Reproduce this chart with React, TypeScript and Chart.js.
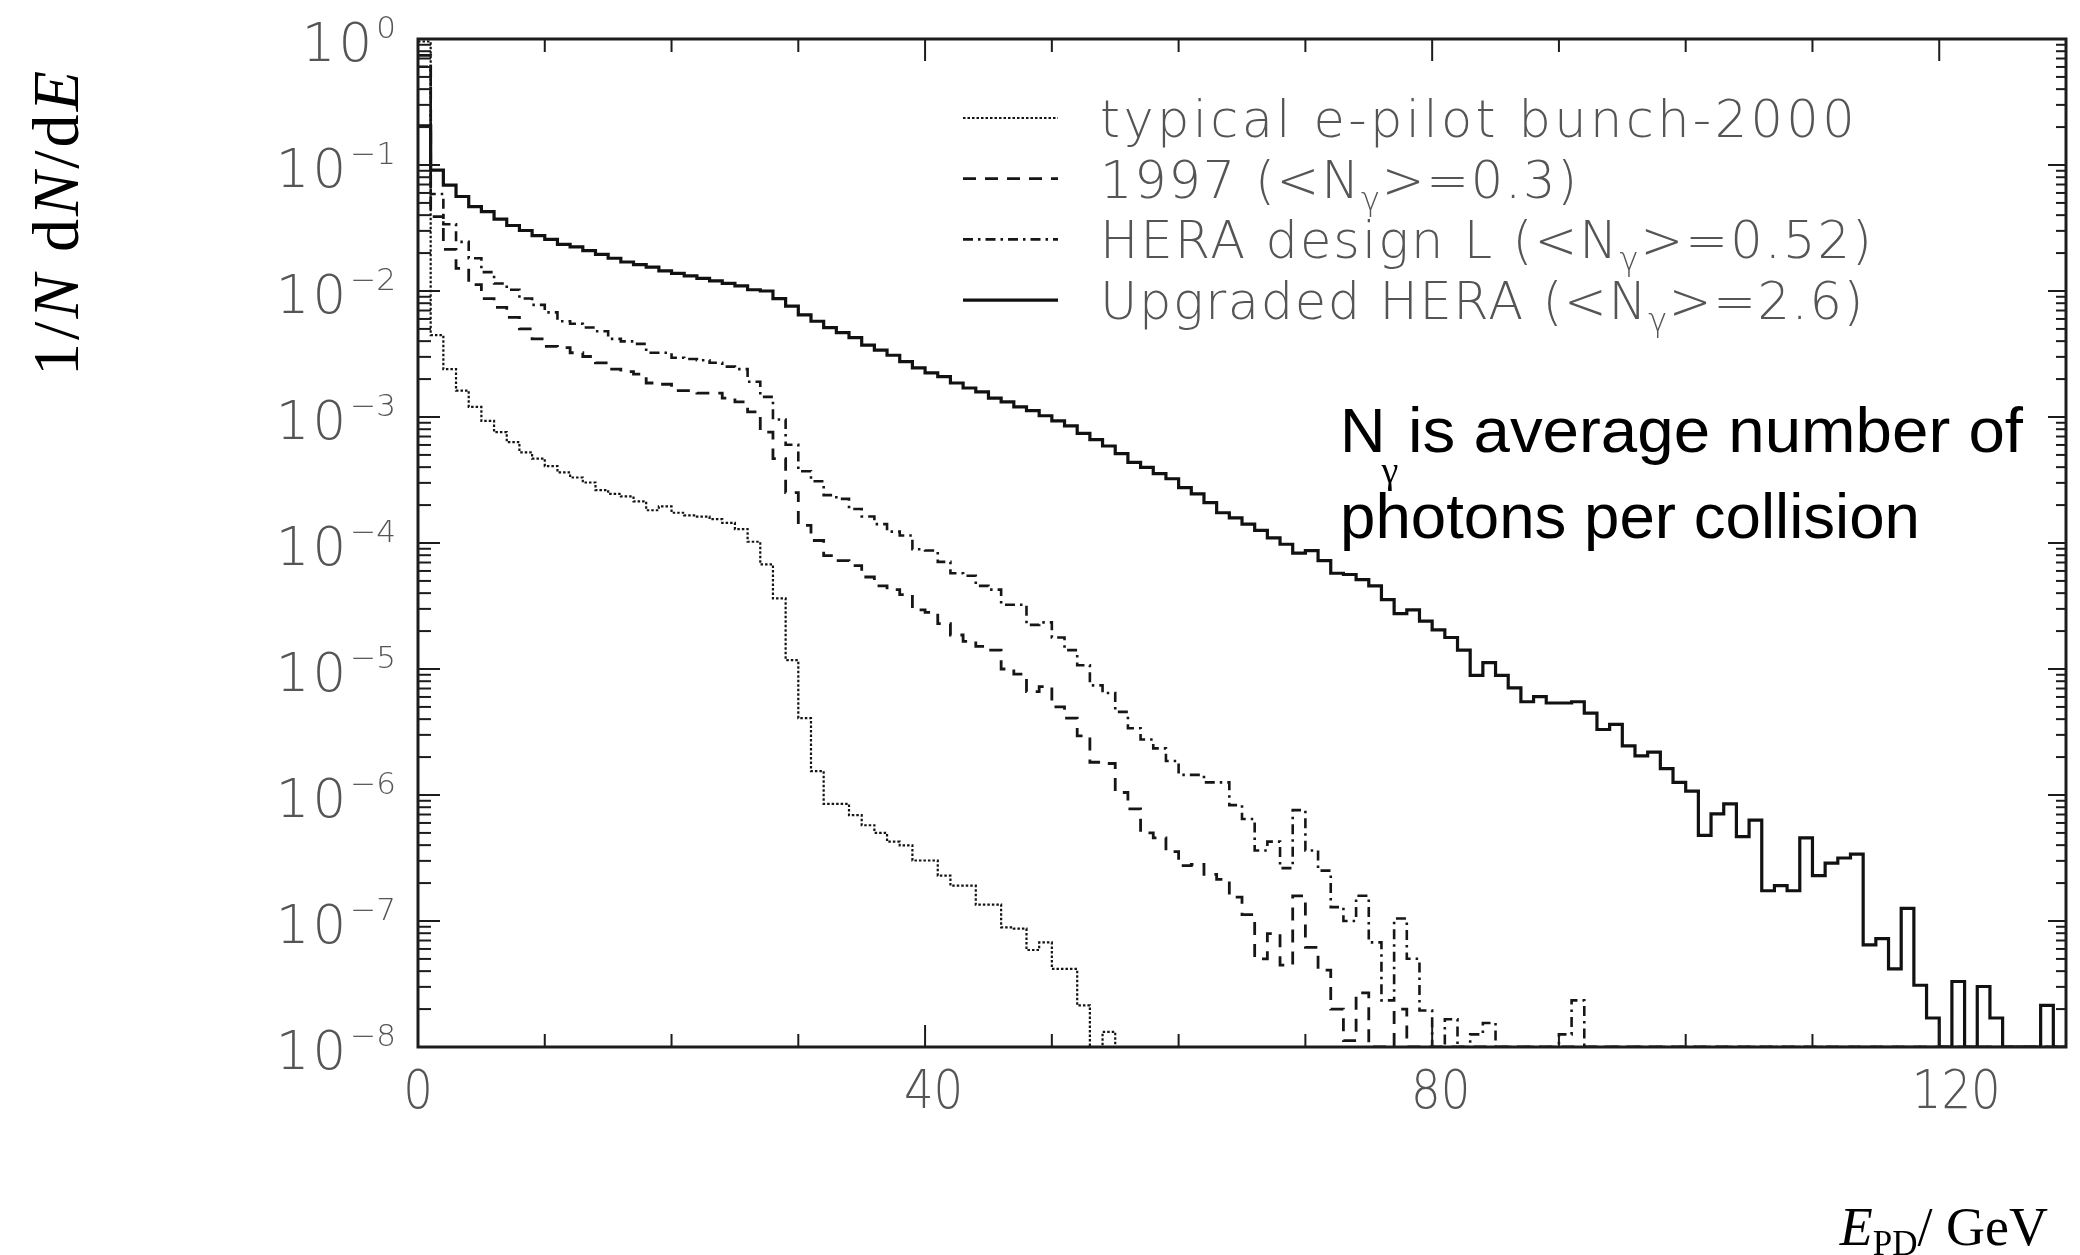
import React, { useEffect, useRef } from "react";
import { Chart, registerables } from "chart.js";

Chart.register(...registerables);

// ---------------- data ----------------
const X_MIN = 0;
const X_MAX = 130;
const BIN_WIDTH = 1; // GeV
const Y_MIN = 1e-8;
const Y_MAX = 1;

const xTickValues = [10, 20, 30, 40, 50, 60, 70, 80, 90, 100, 110, 120];
const xMajorTickValues = [40, 80, 120];
const xLabelValues = [0, 40, 80, 120];
const yDecadeExponents = [-8, -7, -6, -5, -4, -3, -2, -1, 0];
const yMinorMultipliers = [2, 3, 4, 5, 6, 7, 8, 9];

const seriesLabels = [
  "typical e-pilot bunch-2000",
  "1997 (<Nγ>=0.3)",
  "HERA design L (<Nγ>=0.52)",
  "Upgraded HERA (<Nγ>=2.6)",
];

// log10 of 1/N dN/dE per 1 GeV bin (bin k = [k, k+1) GeV); null = empty bin
const pilotLog10 = [
  -0.02, -2.35, -2.62, -2.79, -2.92, -3.03, -3.12, -3.2, -3.28, -3.33,
  -3.39, -3.44, -3.48, -3.52, -3.58, -3.61, -3.63, -3.67, -3.74, -3.71,
  -3.76, -3.78, -3.79, -3.81, -3.84, -3.89, -3.99, -4.17, -4.44, -4.93,
  -5.39, -5.81, -6.07, -6.07, -6.16, -6.24, -6.3, -6.37, -6.4, -6.52,
  -6.52, -6.64, -6.72, -6.72, -6.87, -6.87, -7.05, -7.06, -7.23, -7.17,
  -7.38, -7.38, -7.67, null, -7.88, null, null, null, null, null,
  null, null, null, null, null, null, null, null, null, null,
  null, null, null, null, null, null, null, null, null, null,
  null, null, null, null, null, null, null, null, null, null,
  null, null, null, null, null, null, null, null, null, null,
  null, null, null, null, null, null, null, null, null, null,
  null, null, null, null, null, null, null, null, null, null,
  null, null, null, null, null, null, null, null, null, null,
];

const run1997Log10 = [
  -0.13, -1.41, -1.67, -1.82, -1.95, -2.06, -2.13, -2.21, -2.3, -2.38,
  -2.44, -2.45, -2.49, -2.52, -2.57, -2.62, -2.64, -2.66, -2.73, -2.74,
  -2.79, -2.79, -2.81, -2.81, -2.85, -2.88, -2.96, -3.12, -3.33, -3.6,
  -3.86, -3.98, -4.1, -4.14, -4.18, -4.27, -4.34, -4.37, -4.41, -4.53,
  -4.55, -4.64, -4.73, -4.78, -4.82, -4.85, -5.0, -5.04, -5.18, -5.14,
  -5.3, -5.39, -5.53, -5.74, -5.75, -5.98, -6.11, -6.3, -6.34, -6.45,
  -6.56, -6.55, -6.63, -6.67, -6.81, -6.95, -7.3, -7.1, -7.35, -6.8,
  -7.21, -7.39, -7.7, -7.95, -7.57, null, null, -7.7, null, null,
  null, null, null, null, null, null, null, null, null, null,
  null, null, null, null, null, null, null, null, null, null,
  null, null, null, null, null, null, null, null, null, null,
  null, null, null, null, null, null, null, null, null, null,
  null, null, null, null, null, null, null, null, null, null,
];

const designLLog10 = [
  -0.22, -1.23, -1.47, -1.61, -1.74, -1.85, -1.94, -1.99, -2.06, -2.11,
  -2.17, -2.24, -2.26, -2.29, -2.32, -2.38, -2.4, -2.42, -2.49, -2.49,
  -2.53, -2.54, -2.55, -2.57, -2.6, -2.62, -2.72, -2.84, -3.02, -3.22,
  -3.43, -3.51, -3.62, -3.65, -3.73, -3.79, -3.85, -3.91, -3.94, -4.05,
  -4.06, -4.15, -4.24, -4.26, -4.34, -4.37, -4.49, -4.49, -4.65, -4.63,
  -4.75, -4.85, -4.97, -5.13, -5.19, -5.34, -5.47, -5.56, -5.63, -5.73,
  -5.84, -5.84, -5.9, -5.9, -6.08, -6.19, -6.44, -6.37, -6.58, -6.12,
  -6.44, -6.6, -6.89, -7.0, -6.8, -7.17, -7.63, -6.98, -7.3, -7.71,
  null, -7.78, null, -7.9, -7.81, null, null, null, null, null,
  -7.9, -7.63, null, null, null, null, null, null, null, null,
  null, null, null, null, null, null, null, null, null, null,
  null, null, null, null, null, null, null, null, null, null,
  null, null, null, null, null, null, null, null, null, null,
];

const upgradedLog10 = [
  -0.69, -1.04, -1.16, -1.25, -1.33, -1.37, -1.43, -1.48, -1.52, -1.56,
  -1.59, -1.63, -1.65, -1.68, -1.71, -1.74, -1.77, -1.79, -1.81, -1.84,
  -1.86, -1.88, -1.9, -1.92, -1.94, -1.96, -1.99, -2.0, -2.06, -2.12,
  -2.19, -2.24, -2.29, -2.33, -2.37, -2.43, -2.47, -2.51, -2.56, -2.61,
  -2.65, -2.68, -2.73, -2.77, -2.8, -2.85, -2.88, -2.92, -2.95, -2.99,
  -3.03, -3.07, -3.13, -3.18, -3.23, -3.29, -3.36, -3.4, -3.45, -3.49,
  -3.56, -3.61, -3.68, -3.76, -3.8, -3.85, -3.9, -3.96, -4.01, -4.08,
  -4.06, -4.14, -4.24, -4.25, -4.29, -4.34, -4.45, -4.56, -4.53, -4.62,
  -4.69, -4.75, -4.85, -5.05, -4.95, -5.05, -5.15, -5.26, -5.22, -5.27,
  -5.27, -5.26, -5.35, -5.48, -5.44, -5.61, -5.69, -5.66, -5.79, -5.9,
  -5.97, -6.32, -6.15, -6.07, -6.33, -6.2, -6.76, -6.72, -6.76, -6.34,
  -6.64, -6.54, -6.5, -6.47, -7.19, -7.14, -7.38, -6.9, -7.51, -7.77,
  null, -7.48, null, -7.52, -7.77, null, null, null, -7.67, null,
];

const seriesLog10 = [pilotLog10, run1997Log10, designLLog10, upgradedLog10];

// ---------------- styles / layout ----------------
const W = 2080;
const H = 1255;
const PAD = { left: 418, right: 14, top: 39, bottom: 208 };
const AXIS_COLOR = "#1c1c1c";
const LABEL_COLOR = "#555555";
const THIN_FAMILY = '"DejaVu Sans", Roboto, sans-serif';
const LABEL_FONT = `200 53px ${THIN_FAMILY}`;
const SUP_FONT = `200 31px ${THIN_FAMILY}`;
const LEGEND_FONT = `200 51px ${THIN_FAMILY}`;
const LEGEND_SUB_FONT = `200 32px ${THIN_FAMILY}`;
const SERIF = '"Liberation Serif", "Times New Roman", serif';
const SANS = '"Liberation Sans", Arial, sans-serif';
const LEGEND_TEXT_WIDTHS = [758, 479, 774, 765];

const seriesStyles = [
  { color: "#141414", width: 2.2, dash: [2.5, 2] },
  { color: "#161616", width: 2.8, dash: [13, 9] },
  { color: "#161616", width: 2.6, dash: [10, 5, 2.5, 5] },
  { color: "#111111", width: 3.2, dash: [] as number[] },
];

function toPoints(arr: (number | null)[]) {
  const pts = arr.map((e, i) => ({
    x: X_MIN + i * BIN_WIDTH,
    y: e === null ? Y_MIN : Math.pow(10, e),
  }));
  const last = pts[pts.length - 1];
  pts.push({ x: X_MIN + arr.length * BIN_WIDTH, y: last.y });
  return pts;
}

type Part = { t: string; font: string; dy: number };

function drawParts(ctx: CanvasRenderingContext2D, parts: Part[], x: number, y: number, spacing = 0) {
  let cx = x;
  for (const p of parts) {
    ctx.font = p.font;
    (ctx as any).letterSpacing = `${spacing}px`;
    ctx.fillText(p.t, cx, y + p.dy);
    cx += ctx.measureText(p.t).width;
  }
  (ctx as any).letterSpacing = "0px";
  return cx - x;
}

function measureParts(ctx: CanvasRenderingContext2D, parts: Part[], spacing = 0) {
  let w = 0;
  for (const p of parts) {
    ctx.font = p.font;
    (ctx as any).letterSpacing = `${spacing}px`;
    w += ctx.measureText(p.t).width;
  }
  (ctx as any).letterSpacing = "0px";
  return w;
}

function legendParts(label: string): Part[] {
  const out: Part[] = [];
  const pieces = label.split("γ");
  pieces.forEach((s, i) => {
    if (s) out.push({ t: s, font: LEGEND_FONT, dy: 0 });
    if (i < pieces.length - 1) out.push({ t: "γ", font: LEGEND_SUB_FONT, dy: 12 });
  });
  return out;
}

const paperPlugin = {
  id: "paperFrame",
  afterDraw(chart: any) {
    const { ctx, chartArea: a, scales } = chart;
    const xs = scales.x;
    const ys = scales.y;
    ctx.save();

    // ticks (inward, all four sides)
    ctx.strokeStyle = AXIS_COLOR;
    ctx.lineWidth = 2;
    ctx.setLineDash([]);
    const seg = (x1: number, y1: number, x2: number, y2: number) => {
      ctx.beginPath();
      ctx.moveTo(x1, y1);
      ctx.lineTo(x2, y2);
      ctx.stroke();
    };
    for (const t of xTickValues) {
      const px = xs.getPixelForValue(t);
      const len = xMajorTickValues.includes(t) ? 22 : 13;
      seg(px, a.bottom, px, a.bottom - len);
      seg(px, a.top, px, a.top + len);
    }
    for (const e of yDecadeExponents) {
      const py = ys.getPixelForValue(Math.pow(10, e));
      seg(a.left, py, a.left + 22, py);
      seg(a.right, py, a.right - 18, py);
      if (e < 0) {
        for (const m of yMinorMultipliers) {
          const pm = ys.getPixelForValue(m * Math.pow(10, e));
          seg(a.left, pm, a.left + 13, pm);
          seg(a.right, pm, a.right - 10, pm);
        }
      }
    }

    // frame
    ctx.lineWidth = 3;
    ctx.strokeRect(a.left, a.top, a.right - a.left, a.bottom - a.top);

    // y tick labels 10^n
    ctx.fillStyle = LABEL_COLOR;
    ctx.textBaseline = "alphabetic";
    const yLabelRight = a.left - 22;
    for (const e of yDecadeExponents) {
      const py = ys.getPixelForValue(Math.pow(10, e));
      const sup = e === 0 ? "0" : "\u2212" + Math.abs(e);
      ctx.font = SUP_FONT;
      ctx.textAlign = "right";
      ctx.fillText(sup, yLabelRight, py - 1);
      const sw = ctx.measureText(sup).width;
      ctx.font = LABEL_FONT;
      (ctx as any).letterSpacing = "3px";
      ctx.fillText("10", yLabelRight - sw - 1, py + 22);
      (ctx as any).letterSpacing = "0px";
    }

    // x tick labels (HIGZ-style: shifted right with the number of digits)
    ctx.font = LABEL_FONT;
    ctx.textAlign = "center";
    for (const v of xLabelValues) {
      const s = String(v);
      const px = xs.getPixelForValue(v) + (s.length - 1) * 8.5;
      ctx.save();
      ctx.translate(px, a.bottom + 61);
      ctx.scale(0.88, 1);
      ctx.fillText(s, 0, 0);
      ctx.restore();
    }

    // legend
    ctx.textAlign = "left";
    const legendLineX1 = 963;
    const legendLineX2 = 1058;
    const legendTextX = 1100;
    const legendY0 = 118;
    const legendRow = 60.7;
    chart.data.datasets.forEach((ds: any, i: number) => {
      const ly = legendY0 + i * legendRow;
      ctx.strokeStyle = ds.borderColor;
      ctx.lineWidth = ds.borderWidth;
      ctx.setLineDash(ds.borderDash || []);
      seg(legendLineX1, ly, legendLineX2, ly);
      ctx.setLineDash([]);
      ctx.fillStyle = LABEL_COLOR;
      const parts = legendParts(ds.label);
      const baseW = measureParts(ctx, parts, 0);
      const nChars = ds.label.length;
      const spacing = Math.max(0, (LEGEND_TEXT_WIDTHS[i] - baseW) / nChars);
      drawParts(ctx, parts, legendTextX, ly + 19, spacing);
    });

    // annotation
    ctx.fillStyle = "#000";
    ctx.textAlign = "left";
    const annX = 1340;
    ctx.font = `63px ${SANS}`;
    ctx.fillText("N", annX, 452);
    const nW = ctx.measureText("N").width;
    ctx.font = `38px ${SERIF}`;
    ctx.fillText("γ", annX + nW - 4, 483);
    ctx.font = `63px ${SANS}`;
    const line1 = "is average number of";
    const l1w = ctx.measureText(line1).width;
    ctx.save();
    ctx.translate(annX + 68, 452);
    ctx.scale(615 / l1w, 1);
    ctx.fillText(line1, 0, 0);
    ctx.restore();
    const line2 = "photons per collision";
    const l2w = ctx.measureText(line2).width;
    ctx.save();
    ctx.translate(annX, 538);
    ctx.scale(580 / l2w, 1);
    ctx.fillText(line2, 0, 0);
    ctx.restore();

    // y axis title (rotated)
    const yTitle: Part[] = [
      { t: "1/", font: `66px ${SERIF}`, dy: 0 },
      { t: "N", font: `italic 66px ${SERIF}`, dy: 0 },
      { t: " d", font: `66px ${SERIF}`, dy: 0 },
      { t: "N", font: `italic 66px ${SERIF}`, dy: 0 },
      { t: "/d", font: `66px ${SERIF}`, dy: 0 },
      { t: "E", font: `italic 66px ${SERIF}`, dy: 0 },
    ];
    ctx.fillStyle = "#000";
    ctx.save();
    ctx.translate(78, 376);
    ctx.rotate(-Math.PI / 2);
    const tw = measureParts(ctx, yTitle);
    const ySpacing = Math.max(0, (308 - tw) / 9);
    drawParts(ctx, yTitle, 0, 0, ySpacing);
    ctx.restore();

    // x axis title
    const xTitle: Part[] = [
      { t: "E", font: `italic 54px ${SERIF}`, dy: 0 },
      { t: "PD", font: `35px ${SERIF}`, dy: 10 },
      { t: "/ GeV", font: `54px ${SERIF}`, dy: 0 },
    ];
    const xw = measureParts(ctx, xTitle);
    drawParts(ctx, xTitle, 2048 - xw, 1245);

    ctx.restore();
  },
};

export default function App() {
  const canvasRef = useRef<HTMLCanvasElement | null>(null);

  useEffect(() => {
    document.body.style.margin = "0";
    const canvas = canvasRef.current;
    if (!canvas) return;
    const datasets = seriesLog10.map((arr, i) => ({
      label: seriesLabels[i],
      data: toPoints(arr),
      stepped: "before" as const,
      borderColor: seriesStyles[i].color,
      borderWidth: seriesStyles[i].width,
      borderDash: seriesStyles[i].dash,
      borderCapStyle: "butt" as const,
      borderJoinStyle: "miter" as const,
      fill: false,
      pointRadius: 0,
      tension: 0,
    }));
    const chart = new Chart(canvas, {
      type: "line",
      data: { datasets },
      options: {
        animation: false,
        responsive: false,
        devicePixelRatio: 1,
        layout: { padding: PAD },
        plugins: { legend: { display: false }, tooltip: { enabled: false } },
        scales: {
          x: { type: "linear", min: X_MIN, max: X_MAX, display: false },
          y: { type: "logarithmic", min: Y_MIN, max: Y_MAX, display: false },
        },
      },
      plugins: [paperPlugin],
    } as any);
    return () => chart.destroy();
  }, []);

  return (
    <div style={{ width: W, height: H, background: "#fff" }}>
      <canvas ref={canvasRef} width={W} height={H} style={{ display: "block", width: W, height: H }} />
    </div>
  );
}
